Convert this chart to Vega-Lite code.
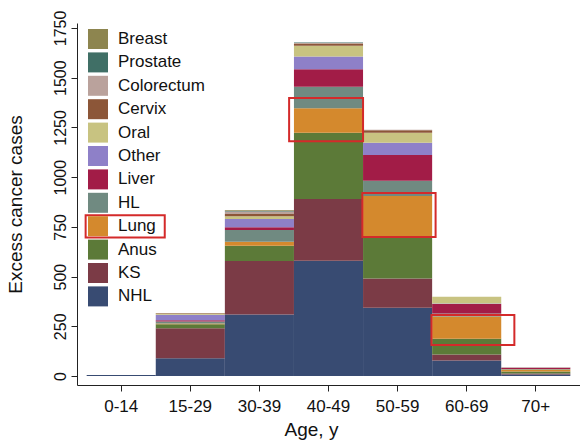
{
  "$schema": "https://vega.github.io/schema/vega-lite/v6.json",
  "width": 503,
  "height": 362,
  "autosize": "none",
  "padding": {"left": 77, "top": 23, "right": 0, "bottom": 58},
  "background": "white",
  "config": {
    "view": {"stroke": null},
    "font": "Liberation Sans",
    "axis": {
      "domainColor": "#222222",
      "tickColor": "#222222",
      "labelColor": "#111111",
      "titleColor": "#111111",
      "titleFontWeight": "normal",
      "grid": false,
      "tickSize": 6
    }
  },
  "datasets": {
    "cases": [
      {"age": "0-14", "cancer": "NHL", "cases": 5},
      {"age": "15-29", "cancer": "NHL", "cases": 89},
      {"age": "15-29", "cancer": "KS", "cases": 151},
      {"age": "15-29", "cancer": "Anus", "cases": 20},
      {"age": "15-29", "cancer": "Lung", "cases": 4},
      {"age": "15-29", "cancer": "HL", "cases": 10},
      {"age": "15-29", "cancer": "Liver", "cases": 7},
      {"age": "15-29", "cancer": "Other", "cases": 27},
      {"age": "15-29", "cancer": "Oral", "cases": 7},
      {"age": "15-29", "cancer": "Cervix", "cases": 2},
      {"age": "30-39", "cancer": "NHL", "cases": 310},
      {"age": "30-39", "cancer": "KS", "cases": 268},
      {"age": "30-39", "cancer": "Anus", "cases": 77},
      {"age": "30-39", "cancer": "Lung", "cases": 20},
      {"age": "30-39", "cancer": "HL", "cases": 59},
      {"age": "30-39", "cancer": "Liver", "cases": 14},
      {"age": "30-39", "cancer": "Other", "cases": 42},
      {"age": "30-39", "cancer": "Oral", "cases": 13},
      {"age": "30-39", "cancer": "Cervix", "cases": 12},
      {"age": "30-39", "cancer": "Colorectum", "cases": 12},
      {"age": "30-39", "cancer": "Prostate", "cases": 3},
      {"age": "30-39", "cancer": "Breast", "cases": 3},
      {"age": "40-49", "cancer": "NHL", "cases": 580},
      {"age": "40-49", "cancer": "KS", "cases": 310},
      {"age": "40-49", "cancer": "Anus", "cases": 333},
      {"age": "40-49", "cancer": "Lung", "cases": 123},
      {"age": "40-49", "cancer": "HL", "cases": 109},
      {"age": "40-49", "cancer": "Liver", "cases": 87},
      {"age": "40-49", "cancer": "Other", "cases": 64},
      {"age": "40-49", "cancer": "Oral", "cases": 54},
      {"age": "40-49", "cancer": "Cervix", "cases": 12},
      {"age": "40-49", "cancer": "Colorectum", "cases": 3},
      {"age": "40-49", "cancer": "Prostate", "cases": 2},
      {"age": "50-59", "cancer": "NHL", "cases": 343},
      {"age": "50-59", "cancer": "KS", "cases": 148},
      {"age": "50-59", "cancer": "Anus", "cases": 206},
      {"age": "50-59", "cancer": "Lung", "cases": 208},
      {"age": "50-59", "cancer": "HL", "cases": 77},
      {"age": "50-59", "cancer": "Liver", "cases": 129},
      {"age": "50-59", "cancer": "Other", "cases": 62},
      {"age": "50-59", "cancer": "Oral", "cases": 50},
      {"age": "50-59", "cancer": "Cervix", "cases": 13},
      {"age": "50-59", "cancer": "Colorectum", "cases": 2},
      {"age": "60-69", "cancer": "NHL", "cases": 78},
      {"age": "60-69", "cancer": "KS", "cases": 30},
      {"age": "60-69", "cancer": "Anus", "cases": 80},
      {"age": "60-69", "cancer": "Lung", "cases": 112},
      {"age": "60-69", "cancer": "HL", "cases": 15},
      {"age": "60-69", "cancer": "Liver", "cases": 47},
      {"age": "60-69", "cancer": "Other", "cases": 3},
      {"age": "60-69", "cancer": "Oral", "cases": 34},
      {"age": "70+", "cancer": "NHL", "cases": 8},
      {"age": "70+", "cancer": "KS", "cases": 5},
      {"age": "70+", "cancer": "Anus", "cases": 10},
      {"age": "70+", "cancer": "Lung", "cases": 10},
      {"age": "70+", "cancer": "HL", "cases": 2},
      {"age": "70+", "cancer": "Liver", "cases": 7},
      {"age": "70+", "cancer": "Other", "cases": 1},
      {"age": "70+", "cancer": "Oral", "cases": 1}
    ]
  },
  "layer": [
    {
      "data": {"name": "cases"},
      "transform": [
        {"calculate": "indexof(['NHL','KS','Anus','Lung','HL','Liver','Other','Oral','Cervix','Colorectum','Prostate','Breast'], datum.cancer)", "as": "stackRank"}
      ],
      "mark": {"type": "bar"},
      "encoding": {
        "x": {
          "field": "age", "type": "nominal",
          "sort": ["0-14", "15-29", "30-39", "40-49", "50-59", "60-69", "70+"],
          "scale": {"paddingInner": 0, "paddingOuter": 0.14},
          "axis": {"title": "Age, y", "labelAngle": 0, "labelFontSize": 17, "labelPadding": 7, "titleFontSize": 19, "titlePadding": 6, "titleX": 234}
        },
        "y": {
          "field": "cases", "type": "quantitative", "stack": "zero",
          "scale": {"domain": [-45, 1775], "nice": false, "zero": false},
          "axis": {"title": "Excess cancer cases", "format": "d", "values": [0, 250, 500, 750, 1000, 1250, 1500, 1750], "labelAngle": -90, "labelFontSize": 16, "labelPadding": 3, "titleFontSize": 19, "titleX": -52}
        },
        "order": {"field": "stackRank", "type": "quantitative", "sort": "ascending"},
        "color": {
          "field": "cancer", "type": "nominal",
          "scale": {
            "domain": ["NHL", "KS", "Anus", "Lung", "HL", "Liver", "Other", "Oral", "Cervix", "Colorectum", "Prostate", "Breast"],
            "range": ["#384b72", "#7b3b46", "#5c7a38", "#d4892d", "#708a81", "#a21c47", "#8e80c8", "#c8c381", "#8c5638", "#baa29c", "#406f66", "#8d854f"]
          },
          "legend": {
            "title": null,
            "orient": "none", "legendX": 11, "legendY": 6,
            "values": ["Breast", "Prostate", "Colorectum", "Cervix", "Oral", "Other", "Liver", "HL", "Lung", "Anus", "KS", "NHL"],
            "symbolType": "square", "symbolSize": 400, "symbolStrokeWidth": 0, "symbolOpacity": 1,
            "labelFontSize": 17, "labelColor": "#111111", "labelOffset": 10, "rowPadding": 3.4, "padding": 0
          }
        }
      }
    },
    {
      "data": {"values": [{"a1": "40-49", "a2": "40-49", "lo": 1181, "hi": 1398}]},
      "mark": {"type": "rect", "filled": false, "color": "#d42a2a", "strokeWidth": 2},
      "encoding": {
        "x": {"field": "a1", "type": "nominal", "bandPosition": -0.07, "sort": ["0-14", "15-29", "30-39", "40-49", "50-59", "60-69", "70+"], "title": "Age, y"},
        "x2": {"field": "a2", "bandPosition": 1.0},
        "y": {"field": "lo", "type": "quantitative", "title": "Excess cancer cases"},
        "y2": {"field": "hi"}
      }
    },
    {
      "data": {"values": [{"a1": "50-59", "a2": "50-59", "lo": 699, "hi": 920}]},
      "mark": {"type": "rect", "filled": false, "color": "#d42a2a", "strokeWidth": 2},
      "encoding": {
        "x": {"field": "a1", "type": "nominal", "bandPosition": -0.01, "sort": ["0-14", "15-29", "30-39", "40-49", "50-59", "60-69", "70+"], "title": "Age, y"},
        "x2": {"field": "a2", "bandPosition": 1.05},
        "y": {"field": "lo", "type": "quantitative", "title": "Excess cancer cases"},
        "y2": {"field": "hi"}
      }
    },
    {
      "data": {"values": [{"a1": "60-69", "a2": "60-69", "lo": 156, "hi": 307}]},
      "mark": {"type": "rect", "filled": false, "color": "#d42a2a", "strokeWidth": 2},
      "encoding": {
        "x": {"field": "a1", "type": "nominal", "bandPosition": -0.01, "sort": ["0-14", "15-29", "30-39", "40-49", "50-59", "60-69", "70+"], "title": "Age, y"},
        "x2": {"field": "a2", "bandPosition": 1.19},
        "y": {"field": "lo", "type": "quantitative", "title": "Excess cancer cases"},
        "y2": {"field": "hi"}
      }
    },
    {
      "data": {"values": [{"a1": "0-14", "a2": "15-29", "lo": 697, "hi": 809}]},
      "mark": {"type": "rect", "filled": false, "color": "#d42a2a", "strokeWidth": 2},
      "encoding": {
        "x": {"field": "a1", "type": "nominal", "bandPosition": -0.015, "sort": ["0-14", "15-29", "30-39", "40-49", "50-59", "60-69", "70+"], "title": "Age, y"},
        "x2": {"field": "a2", "bandPosition": 0.13},
        "y": {"field": "lo", "type": "quantitative", "title": "Excess cancer cases"},
        "y2": {"field": "hi"}
      }
    }
  ]
}
